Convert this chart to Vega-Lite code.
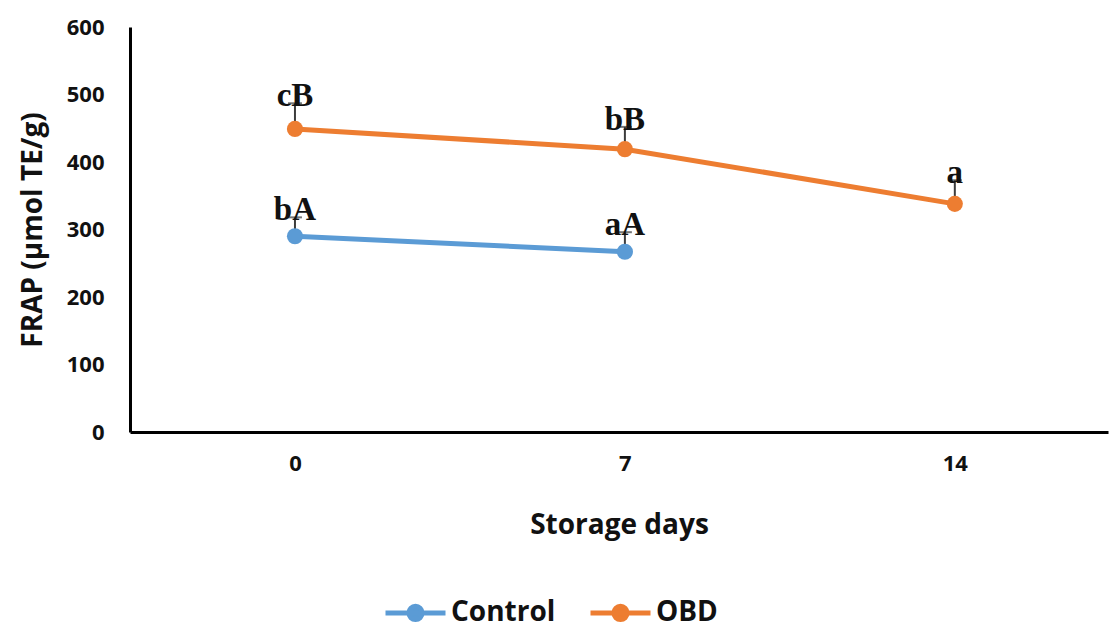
{
  "$schema": "https://vega.github.io/schema/vega-lite/v6.json",
  "autosize": "none",
  "width": 978,
  "height": 405,
  "padding": {"left": 130, "top": 27, "right": 2, "bottom": 202},
  "background": "white",
  "config": {
    "view": {"stroke": null},
    "font": "Open Sans",
    "axis": {
      "grid": false,
      "ticks": false,
      "domainColor": "black",
      "domainWidth": 3,
      "labelFont": "Open Sans",
      "labelFontWeight": "bold",
      "labelFontSize": 22,
      "labelColor": "#111111",
      "titleFont": "Open Sans",
      "titleFontWeight": "bold",
      "titleFontSize": 28,
      "titleColor": "#111111"
    }
  },
  "data": {
    "values": [
      {"day": 0, "group": "Control", "frap": 290, "upper": 318, "label": "bA"},
      {"day": 7, "group": "Control", "frap": 267, "upper": 296, "label": "aA"},
      {"day": 0, "group": "OBD", "frap": 449, "upper": 487, "label": "cB"},
      {"day": 7, "group": "OBD", "frap": 419, "upper": 452, "label": "bB"},
      {"day": 14, "group": "OBD", "frap": 338, "upper": 373, "label": "a"}
    ]
  },
  "encoding": {
    "x": {
      "field": "day",
      "type": "quantitative",
      "scale": {"domain": [-3.5, 17.25], "nice": false, "zero": false},
      "axis": {
        "values": [0, 7, 14],
        "title": "Storage days",
        "labelPadding": 21,
        "titlePadding": 37
      }
    }
  },
  "layer": [
    {
      "mark": {"type": "rule", "color": "#3c3c3c", "strokeWidth": 2},
      "encoding": {
        "y": {"field": "frap", "type": "quantitative"},
        "y2": {"field": "upper"}
      }
    },
    {
      "mark": {"type": "tick", "orient": "horizontal", "color": "#3c3c3c", "size": 14, "thickness": 2},
      "encoding": {
        "y": {"field": "upper", "type": "quantitative"}
      }
    },
    {
      "mark": {"type": "line", "strokeWidth": 5},
      "encoding": {
        "y": {
          "field": "frap",
          "type": "quantitative",
          "scale": {"domain": [0, 600], "nice": false},
          "axis": {
            "values": [0, 100, 200, 300, 400, 500, 600],
            "title": "FRAP (µmol TE/g)",
            "labelPadding": 26,
            "titlePadding": 19
          }
        },
        "color": {
          "field": "group",
          "type": "nominal",
          "scale": {"domain": ["Control", "OBD"], "range": ["#5B9BD5", "#ED7D31"]},
          "legend": {
            "title": null,
            "orient": "none",
            "direction": "horizontal",
            "legendX": 253,
            "legendY": 553,
            "symbolType": "M-1,0L1,0M-0.22,0A0.22,0.22 0 1,1 0.22,0A0.22,0.22 0 1,1 -0.22,0Z",
            "symbolSize": 3600,
            "symbolStrokeWidth": 5,
            "labelFont": "Open Sans",
            "labelFontSize": 28,
            "labelFontWeight": "bold",
            "labelColor": "#111111",
            "labelOffset": 3,
            "columnPadding": 24,
            "encode": {
              "symbols": {
                "update": {
                  "fill": {"scale": "color", "field": "value"},
                  "stroke": {"scale": "color", "field": "value"},
                  "fillOpacity": {"value": 1}
                }
              }
            }
          }
        }
      }
    },
    {
      "mark": {"type": "point", "filled": true, "opacity": 1, "size": 260},
      "encoding": {
        "y": {"field": "frap", "type": "quantitative"},
        "color": {"field": "group", "type": "nominal"}
      }
    },
    {
      "mark": {
        "type": "text",
        "font": "Liberation Serif",
        "fontWeight": "bold",
        "fontSize": 33,
        "baseline": "alphabetic",
        "align": "center",
        "dy": 3,
        "color": "#111111"
      },
      "encoding": {
        "y": {"field": "upper", "type": "quantitative"},
        "text": {"field": "label"}
      }
    }
  ]
}
